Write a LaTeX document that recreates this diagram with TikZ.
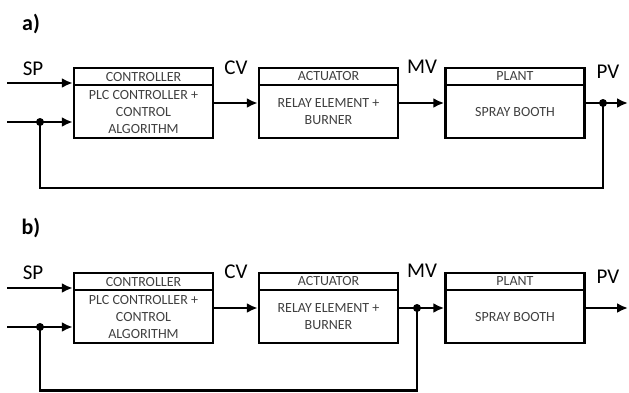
\documentclass[tikz,border=0pt]{standalone}
\usepackage{fontspec}
\setmainfont{Carlito}
\usetikzlibrary{calc}
\usetikzlibrary{arrows.meta}

\begin{document}
\begin{tikzpicture}[x=1pt,y=-1pt,>={Latex[length=11pt,width=10pt]},
  head/.style={draw,line width=2.5pt,minimum width=139pt,minimum height=17pt,inner sep=0pt,text=darkgray,font=\fontsize{14}{17}\selectfont},
  body/.style={draw,line width=2.5pt,minimum width=139pt,minimum height=53pt,inner sep=0pt,align=center,text=darkgray,font=\fontsize{14}{17}\selectfont},
  sig/.style={font=\fontsize{21}{21}\selectfont},
  panel/.style={font=\bfseries\fontsize{22}{22}\selectfont},
  junc/.style={circle,fill,inner sep=0pt,minimum size=8pt}]
\useasboundingbox (0,0) rectangle (629,392);

% a)
\node[panel] (pa) at (31,24) {a)};
\node[head] (ctrlha) at (143.5,76.5) {CONTROLLER};
\node[body] (ctrla) at (143.5,111.5) {PLC CONTROLLER +\\CONTROL\\ALGORITHM};
\node[head] (actha) at (328.5,76.5) {ACTUATOR};
\node[body] (acta) at (328.5,111.5) {RELAY ELEMENT +\\BURNER};
\node[head] (plantha) at (515,76.5) {PLANT};
\node[body] (planta) at (515,111.5) {SPRAY BOOTH};
\node[sig] (spa) at (33,69) {SP};
\node[sig] (cva) at (236,68) {CV};
\node[sig] (mva) at (422,67) {MV};
\node[sig] (pva) at (608,72) {PV};
\coordinate (ina) at (7,83);
\coordinate (fba) at (7,122);
\coordinate (outa) at (628,103);
\coordinate (bota) at (0,188);
\node[junc] (jsa) at (40,122) {};
\node[junc] (jpa) at (603,103) {};
\draw[->,line width = 2.5pt] (ina) -- (ctrla.west |- ina);
\draw[->,line width = 2.5pt] (fba) -- (ctrla.west |- fba);
\draw[->,line width = 2.5pt] (ctrla.east |- outa) -- (acta.west |- outa);
\draw[->,line width = 2.5pt] (acta.east |- outa) -- (planta.west |- outa);
\draw[->,line width = 2.5pt] (planta.east |- outa) -- (outa);
\draw[line width = 2.5pt] (jpa.center) -- (jpa |- bota) -| (jsa.center);

% b)
\node[panel] (pb) at (31,228) {b)};
\node[head] (ctrlhb) at (143.5,281.5) {CONTROLLER};
\node[body] (ctrlb) at (143.5,316.5) {PLC CONTROLLER +\\CONTROL\\ALGORITHM};
\node[head] (acthb) at (328.5,281.5) {ACTUATOR};
\node[body] (actb) at (328.5,316.5) {RELAY ELEMENT +\\BURNER};
\node[head] (planthb) at (515,281.5) {PLANT};
\node[body] (plantb) at (515,316.5) {SPRAY BOOTH};
\node[sig] (spb) at (33,273) {SP};
\node[sig] (cvb) at (236,272) {CV};
\node[sig] (mvb) at (422,271) {MV};
\node[sig] (pvb) at (608,277) {PV};
\coordinate (inb) at (7,288);
\coordinate (fbb) at (7,327);
\coordinate (outb) at (628,308);
\coordinate (botb) at (0,390.5);
\node[junc] (jsb) at (40,327) {};
\node[junc] (jmb) at (417,308) {};
\draw[->,line width = 2.5pt] (inb) -- (ctrlb.west |- inb);
\draw[->,line width = 2.5pt] (fbb) -- (ctrlb.west |- fbb);
\draw[->,line width = 2.5pt] (ctrlb.east |- outb) -- (actb.west |- outb);
\draw[->,line width = 2.5pt] (actb.east |- outb) -- (plantb.west |- outb);
\draw[->,line width = 2.5pt] (plantb.east |- outb) -- (outb);
\draw[line width = 2.5pt] (jmb.center) -- (jmb |- botb) -| (jsb.center);
\end{tikzpicture}
\end{document}
